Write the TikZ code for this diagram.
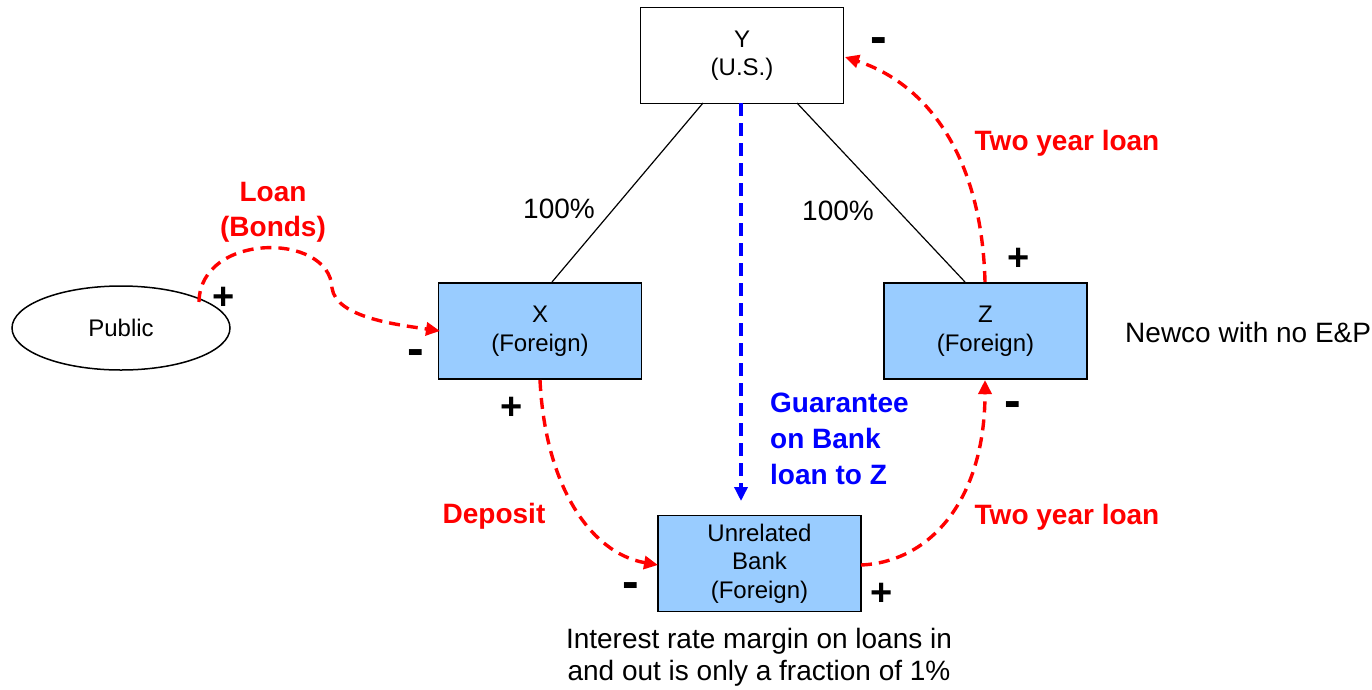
\documentclass[tikz,border=0pt]{standalone}
\usepackage{fontspec}
\setmainfont{Liberation Sans}
\usetikzlibrary{arrows.meta,shapes.geometric}
\definecolor{boxblue}{HTML}{99CCFF}
\begin{document}
\begin{tikzpicture}[x=1pt,y=-1pt,
  ent/.style={draw=black,line width=1.8pt,minimum width=203pt,minimum height=96pt,align=center,font=\fontsize{24}{28.5}\selectfont,inner sep=0pt},
  fent/.style={ent,fill=boxblue},
  own/.style={draw=black,line width=1.2pt},
  flow/.style={draw=red,line width=3.4pt,dash pattern=on 11pt off 7pt,-{Triangle[length=14pt,width=13pt]}},
  guar/.style={draw=blue,line width=3.4pt,dash pattern=on 13pt off 7pt,-{Triangle[length=14pt,width=13pt]}},
  rlab/.style={text=red,font=\bfseries\fontsize{28}{35}\selectfont,align=center,inner sep=0pt},
  blab/.style={text=blue,font=\bfseries\fontsize{28}{36}\selectfont,align=left,inner sep=0pt},
  sgn/.style={font=\bfseries\fontsize{38}{38}\selectfont,inner sep=0pt},
  msgn/.style={font=\bfseries\fontsize{50}{50}\selectfont,inner sep=0pt,yshift=-6pt},
  plain/.style={font=\fontsize{28}{32}\selectfont,align=center,inner sep=0pt}]
\useasboundingbox (0,0) rectangle (1372,689);
\node[ent] (Y) at (742,55.5) {Y\\(U.S.)};
\node[fent] (X) at (540,331) {X\\(Foreign)};
\node[fent] (Z) at (985.5,331) {Z\\(Foreign)};
\node[fent] (B) at (759.5,563.5) {Unrelated\\Bank\\(Foreign)};
\node[draw=black,line width=1.5pt,ellipse,minimum width=218pt,minimum height=84pt,inner sep=0pt,font=\fontsize{24}{28}\selectfont] (P) at (121,328) {Public};
% ownership lines
\coordinate (yl) at (703,103); \coordinate (xt) at (552,282);
\coordinate (yr) at (797,103); \coordinate (zt) at (965,282);
\draw[own] (yl) -- (xt);
\draw[own] (yr) -- (zt);
\node[plain] (p1) at (559,209) {100\%};
\node[plain] (p2) at (838,211) {100\%};
% guarantee
\coordinate (gs) at (741,103); \coordinate (ge) at (741,501);
\draw[guar] (gs) -- (ge);
\node[blab,anchor=north west] (gl) at (770,393) {Guarantee\\on Bank\\loan to Z};
% flows
\coordinate (ps) at (199,302); \coordinate (pm) at (332,288); \coordinate (xe) at (440,331);
\draw[flow] (ps) .. controls (200,232) and (330,232) .. (pm) .. controls (336,318) and (400,325) .. (xe);
\node[rlab] (ll) at (273,212) {Loan\\(Bonds)};
\node[sgn] (s1) at (224,298) {+};
\node[msgn] (s2) at (416,352) {-};
\coordinate (xb) at (540,380); \coordinate (bl) at (658,565);
\draw[flow] (xb) .. controls (545,485) and (590,553) .. (bl);
\node[rlab] (dl) at (494,516) {Deposit};
\node[sgn] (s3) at (512,408) {+};
\node[msgn] (s4) at (631,585) {-};
\coordinate (br) at (861,565); \coordinate (zb) at (985,380);
\draw[flow] (br) .. controls (930,562) and (985,500) .. (zb);
\node[rlab] (tl1) at (1067,517) {Two year loan};
\node[sgn] (s5) at (882,594) {+};
\node[msgn] (s6) at (1013,404) {-};
\coordinate (zt2) at (985,282); \coordinate (yre) at (845,57);
\draw[flow] (zt2) .. controls (982,160) and (930,85) .. (yre);
\node[rlab] (tl2) at (1067,143) {Two year loan};
\node[sgn] (s7) at (1019,259) {+};
\node[msgn] (s8) at (879,40) {-};
% notes
\node[plain,anchor=west] (nw) at (1125,332) {Newco with no E\&P};
\node[plain] (ir) at (759,657) {Interest rate margin on loans in\\and out is only a fraction of 1\%};
\end{tikzpicture}
\end{document}
